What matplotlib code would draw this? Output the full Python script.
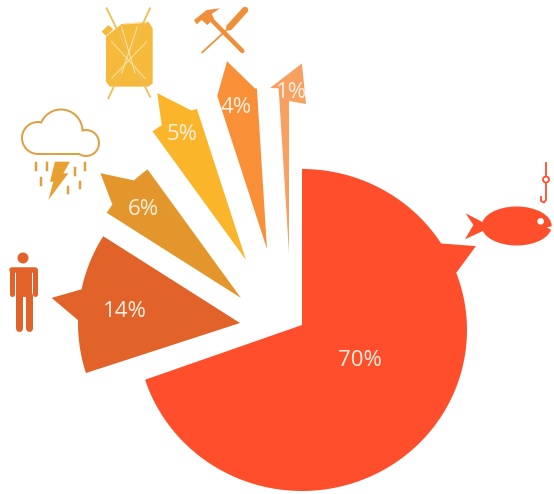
import numpy as np
import matplotlib
matplotlib.use("Agg")
import matplotlib.pyplot as plt
from matplotlib.patches import Polygon, Circle, Rectangle, Ellipse

# pie data, clockwise from 12 o'clock
labels = ["70%", "14%", "6%", "5%", "4%", "1%"]
shares = [70, 14, 6, 5, 4, 1]
colors = ["#FF4E2B", "#E2632A", "#E2962B", "#FBB52B", "#F98F37", "#F7A060"]

# layout of each exploded slice, picture pixels
apex_x = [302, 240, 241, 246, 267, 289]
apex_y = [325, 323, 298, 260, 249, 253]
radius = [160, 162, 159, 159, 161, 165]
# arrow head: bearing of first base, tip (bearing, radius), bearing of second base
base1 = [57.5, 271, 306, 328, 342, 356.4]
tip = [(65.6, 191), (277.6, 190), (311.6, 188), (332, 189), (348, 192), (3.9, 190)]
base2 = [69.2, 282, 317.7, 340, 355.7, 360]
label_x = [360, 125, 143, 182, 236, 291]
label_y = [360, 311, 209, 134, 107, 92]

TEXT = "#FBEFE0"
CLOUD = "#E0A040"
CAN = "#F5B93B"
TOOLS = "#F08F3A"
PERSON = "#E2632A"
FISH = "#FF4E2B"


def point(cx, cy, bearing, r):
    a = np.radians(bearing)
    return cx + r * np.sin(a), cy - r * np.cos(a)


def arc(cx, cy, r, a0, a1):
    return [point(cx, cy, x, r) for x in np.linspace(a0, a1, 60)]


def px(w):
    return w * 0.72


fig = plt.figure(figsize=(5.54, 4.94), dpi=100)
ax = fig.add_axes([0, 0, 1, 1])
ax.set_xlim(0, 554)
ax.set_ylim(494, 0)
ax.axis("off")

start = 0
for i in range(len(shares)):
    end = start + shares[i] * 3.6
    cx, cy = apex_x[i], apex_y[i]
    if i == 0:
        # big slice, its outer edge is a little wider than tall
        def edge(a0, a1):
            b = np.radians(np.linspace(a0, a1, 120))
            return list(zip(302 + 165 * np.sin(b), 330 - 161 * np.cos(b)))
        pts = [(cx, cy)] + edge(start, base1[0]) + [point(cx, cy, *tip[0])] + edge(base2[0], end)
    elif i == 5:
        # thin slice, head is wider than the slice
        pts = [(cx, cy), point(cx, cy, start, radius[i]), (270, 88), point(cx, cy, *tip[i]),
               (306, 104), point(cx, cy, end, 152)]
    else:
        pts = [(cx, cy)] + arc(cx, cy, radius[i], start, base1[i]) + [point(cx, cy, *tip[i])] \
            + arc(cx, cy, radius[i], base2[i], end)
    ax.add_patch(Polygon(pts, closed=True, fc=colors[i], ec="none", zorder=2))
    ax.text(label_x[i], label_y[i], labels[i], color=TEXT, fontsize=16, family="Open Sans",
            ha="center", va="center", zorder=5)
    start = end

# person
ax.add_patch(Circle((23, 258), 5.5, fc=PERSON, ec="none"))
ax.plot([12, 35], [270, 270], color=PERSON, lw=px(5.5), solid_capstyle="round")
for x in [11.7, 34.8]:
    ax.plot([x, x], [270, 294], color=PERSON, lw=px(5), solid_capstyle="round")
ax.add_patch(Rectangle((15.5, 268), 16, 29, fc=PERSON, ec="none"))
for x in [19, 28.5]:
    ax.plot([x, x], [295, 328], color=PERSON, lw=px(7), solid_capstyle="round")

# cloud, outline painted as filled shapes
for grow, col in [(2, CLOUD), (0, "white")]:
    for (x, y, r) in [(38, 138, 15), (61, 131, 20.5), (86, 143, 12)]:
        ax.add_patch(Circle((x, y), r + grow, fc=col, ec="none", zorder=3))
    ax.add_patch(Rectangle((38, 135), 48, 18, fc=col, ec="none", zorder=3))
    ax.add_patch(Rectangle((38 - grow, 142), 50, 11 + grow, fc=col, ec="none", zorder=3))
bolt = np.array([(165, 485), (210, 485), (190, 520), (205, 520), (145, 600), (160, 545), (150, 545)]) / 3
ax.add_patch(Polygon(bolt, fc="#E8A030", ec="none"))
for (x, y) in [(107, 490), (140, 490), (225, 505), (256, 490), (122, 535), (203, 560), (240, 545)]:
    ax.plot([x / 3, x / 3], [y / 3, (y + 20) / 3], color=CLOUD, lw=px(2.5))

# jerry can
can = np.array([(318, 110), (365, 72), (445, 65), (458, 85), (458, 250), (445, 260), (330, 260), (318, 245)]) / 3
ax.add_patch(Polygon(can, fc=CAN, ec="none"))
spout = np.array([(305, 95), (325, 75), (340, 88), (318, 108)]) / 3
ax.add_patch(Polygon(spout, fc=CAN, ec="none"))
ax.plot([372 / 3, 440 / 3], [72 / 3, 68 / 3], color="#FBE3A8", lw=px(1))
for (a, b, c, d) in [(320, 25, 450, 290), (450, 25, 325, 295)]:
    ax.plot([a / 3, c / 3], [b / 3, d / 3], color="#F0BE55", lw=px(1.8))
for (a, b, c, d) in [(335, 125, 435, 235), (440, 125, 335, 235), (365, 80, 405, 220), (412, 80, 365, 220)]:
    ax.plot([a / 3, c / 3], [b / 3, d / 3], color="#FBE3A8", lw=px(1))

# hammer and screwdriver
ax.plot([727 / 3, 630 / 3], [153 / 3, 55 / 3], color=TOOLS, lw=px(4.5), solid_capstyle="round")
head = np.array([(582, 60), (620, 30), (660, 25), (635, 42), (642, 55), (622, 75), (605, 60), (590, 73)]) / 3
ax.add_patch(Polygon(head, fc=TOOLS, ec="none"))
ax.plot([735 / 3, 688 / 3], [30 / 3, 82 / 3], color=TOOLS, lw=px(6.5), solid_capstyle="round")
ax.plot([685 / 3, 607 / 3], [85 / 3, 157 / 3], color=TOOLS, lw=px(1.8))

# fish and hook
ax.add_patch(Ellipse((420 + 290 / 3, 150 + 228 / 3), 210 / 3, 117 / 3, fc=FISH, ec="none"))
tail = np.array([(137, 190), (195, 220), (195, 240), (135, 268), (160, 225)]) / 3 + [420, 150]
ax.add_patch(Polygon(tail, fc=FISH, ec="none"))
ax.add_patch(Circle((420 + 362 / 3, 150 + 214 / 3), 3.3, fc="white", ec="none"))
mouth = np.array([(400, 228), (380, 232), (400, 243)]) / 3 + [420, 150]
ax.add_patch(Polygon(mouth, fc="white", ec="none"))
ax.plot([546, 546], [163, 175], color=FISH, lw=px(1.8))
ax.add_patch(Circle((546, 179.5), 3, fc="white", ec=FISH, lw=px(1.8)))
ax.plot([546, 546, 544, 541, 541], [183, 200, 202.5, 201, 197], color=FISH, lw=px(1.8))

fig.savefig("out.png", dpi=100)
